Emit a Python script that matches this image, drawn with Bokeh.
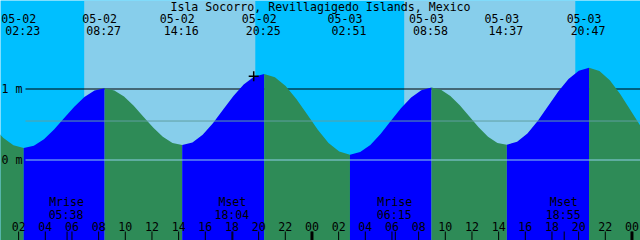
from bokeh.plotting import figure
from bokeh.models import Range1d
from bokeh.core.properties import value
from bokeh.embed import file_html
from bokeh.resources import INLINE

# ---------------- data ----------------
title_text = "Isla Socorro, Revillagigedo Islands, Mexico"

# tide curve, hours since 05-02 00:00 and level in metres
tide_hours = [
    0.064, 0.837, 1.610, 2.383,
    3.141, 3.900, 4.658, 5.417, 6.175, 6.933, 7.692, 8.450,
    9.177, 9.904, 10.631, 11.358, 12.086, 12.813, 13.540, 14.267,
    15.036, 15.804, 16.573, 17.342, 18.111, 18.879, 19.648, 20.417,
    21.221, 22.025, 22.829, 23.634, 24.438, 25.242, 26.046, 26.850,
    27.615, 28.379, 29.144, 29.908, 30.673, 31.438, 32.202, 32.967,
    33.673, 34.379, 35.086, 35.792, 36.498, 37.204, 37.911, 38.617,
    39.388, 40.158, 40.929, 41.700, 42.471, 43.242, 44.013, 44.783,
    45.560, 46.337, 47.114, 47.891, 48.668,
]
tide_level = [
    0.473, 0.314, 0.207, 0.170,
    0.202, 0.293, 0.429, 0.590, 0.751, 0.887, 0.978, 1.010,
    0.980, 0.893, 0.763, 0.610, 0.457, 0.327, 0.240, 0.210,
    0.248, 0.356, 0.519, 0.710, 0.901, 1.064, 1.172, 1.210,
    1.167, 1.044, 0.860, 0.643, 0.425, 0.241, 0.118, 0.075,
    0.111, 0.213, 0.367, 0.548, 0.728, 0.882, 0.984, 1.020,
    0.989, 0.901, 0.770, 0.615, 0.460, 0.329, 0.241, 0.215,
    0.256, 0.373, 0.548, 0.757, 0.966, 1.141, 1.258, 1.300,
    1.254, 1.124, 0.930, 0.700, 0.470,
]

ext_dates = ["05-02", "05-02", "05-02", "05-02", "05-03", "05-03", "05-03", "05-03"]
ext_times = ["02:23", "08:27", "14:16", "20:25", "02:51", "08:58", "14:37", "20:47"]

sunrise = ["05-02 06:55", "05-03 06:55"]
sunset = ["05-02 19:45", "05-03 19:45"]

moon_names = ["Mrise", "Mset", "Mrise", "Mset"]
moon_dates = ["05-02", "05-02", "05-03", "05-03"]
moon_times = ["05:38", "18:04", "06:15", "18:55"]

tick_hours = [2, 4, 6, 8, 10, 12, 14, 16, 18, 20, 22, 24,
              26, 28, 30, 32, 34, 36, 38, 40, 42, 44, 46, 48]
tick_labels = ["02", "04", "06", "08", "10", "12", "14", "16", "18", "20", "22", "00",
               "02", "04", "06", "08", "10", "12", "14", "16", "18", "20", "22", "00"]
midnight_hours = [24, 48]

level_marks = [1.0, 0.0]
level_labels = ["1 m", "0 m"]
msl_level = 0.549

now_hour = [19.63]
now_level = [1.18]

# ---------------- layout / style ----------------
W, H = 640, 240
T0 = 0.64
SPAN = 48.0
PX_H = W / SPAN          # pixels per hour
PX_M = 71.0              # pixels per metre
Y0PX = 159.5             # pixel row of 0 m
YMAX = Y0PX / PX_M
YMIN = (Y0PX - H) / PX_M
TEXT_DY = 4.0            # baseline correction for svg text

NIGHT = "#00bfff"
DAY = "#87ceeb"
RISE = "#0000ff"
FALL = "#2e8b57"
MSL_COL = "#5f9ea0"
DATUM_COL = "#8fd0ea"
FONT = value("DejaVu Sans Mono")
FS = "11.6px"


def px2t(px):
    return T0 + px / PX_H


def py2h(py):
    return (Y0PX - py) / PX_M


def ty(py):
    # data y for a text baseline at pixel row py
    return py2h(py - TEXT_DY)


def to_hours(date, time):
    day = int(date.split("-")[1]) - 2
    hh, mm = time.split(":")
    return day * 24 + int(hh) + int(mm) / 60.0


p = figure(width=W, height=H, x_range=Range1d(T0, T0 + SPAN), y_range=Range1d(YMIN, YMAX),
           x_axis_type=None, y_axis_type=None, toolbar_location=None,
           output_backend="svg", min_border=0,
           background_fill_color=NIGHT, border_fill_color=NIGHT, outline_line_color=None)
p.min_border_left = p.min_border_right = p.min_border_top = p.min_border_bottom = 0

# daylight bands
sr = [to_hours(*s.split(" ")) for s in sunrise]
ss = [to_hours(*s.split(" ")) for s in sunset]
p.quad(left=sr, right=ss, bottom=YMIN, top=YMAX, fill_color=DAY, line_color=None)

x_line_start = px2t(25)
x_end = T0 + SPAN

# 1 m line (behind water)
p.segment(x0=[x_line_start], y0=[level_marks[0]], x1=[x_end], y1=[level_marks[0]],
          line_color="black", line_width=1)

# water, coloured by rising / falling
runs = []
start = 0
cur = None
for i in range(1, len(tide_hours)):
    rising = tide_level[i] > tide_level[i - 1]
    if cur is None:
        cur = rising
    elif rising != cur:
        runs.append((start, i - 1, cur))
        start = i - 1
        cur = rising
runs.append((start, len(tide_hours) - 1, cur))
for a, b, rising in runs:
    xs = tide_hours[a:b + 1]
    ys = tide_level[a:b + 1]
    p.varea(x=xs, y1=[YMIN] * len(xs), y2=ys, fill_color=RISE if rising else FALL)

# MSL and datum lines (over water)
p.segment(x0=[x_line_start], y0=[msl_level], x1=[x_end], y1=[msl_level],
          line_color=MSL_COL, line_width=1)
p.segment(x0=[x_line_start], y0=[level_marks[1]], x1=[x_end], y1=[level_marks[1]],
          line_color=DATUM_COL, line_width=1)

common = dict(text_font=FONT, text_font_size=FS, text_baseline="alphabetic", text_color="black")

# level labels
p.text(x=[px2t(1)] * 2, y=[lv - (4.0 - TEXT_DY) / PX_M for lv in level_marks], text=level_labels,
       text_align="left", **common)

# title
p.text(x=[px2t(W / 2)], y=[ty(10)], text=[title_text], text_align="center", **common)

# high / low labels
ext_h = [to_hours(d, t) for d, t in zip(ext_dates, ext_times)]
p.text(x=ext_h, y=[ty(22)] * len(ext_h), text=ext_dates, x_offset=-5, text_align="center", **common)
p.text(x=ext_h, y=[ty(34)] * len(ext_h), text=ext_times, x_offset=-1, text_align="center", **common)

# moon labels
moon_h = [to_hours(d, t) for d, t in zip(moon_dates, moon_times)]
p.text(x=moon_h, y=[ty(205.5)] * 4, text=moon_names, x_offset=-0.5, text_align="center", **common)
p.text(x=moon_h, y=[ty(218.5)] * 4, text=moon_times, x_offset=-1, text_align="center", **common)

# hour ticks and labels
tick_top = py2h(231)
p.segment(x0=tick_hours, y0=[YMIN] * len(tick_hours), x1=tick_hours, y1=[tick_top] * len(tick_hours),
          line_color="black", line_width=1)
p.segment(x0=midnight_hours, y0=[YMIN] * 2, x1=midnight_hours, y1=[tick_top] * 2,
          line_color="black", line_width=3)
p.segment(x0=moon_h, y0=[YMIN] * 4, x1=moon_h, y1=[tick_top] * 4,
          line_color="black", line_width=1)
p.text(x=tick_hours, y=[ty(230)] * len(tick_hours), text=tick_labels, text_align="center", **common)

# current-time marker
p.scatter(x=now_hour, y=now_level, marker="cross", size=10, line_color="black", line_width=1.5)

open("out.html", "w").write(file_html(p, INLINE))
